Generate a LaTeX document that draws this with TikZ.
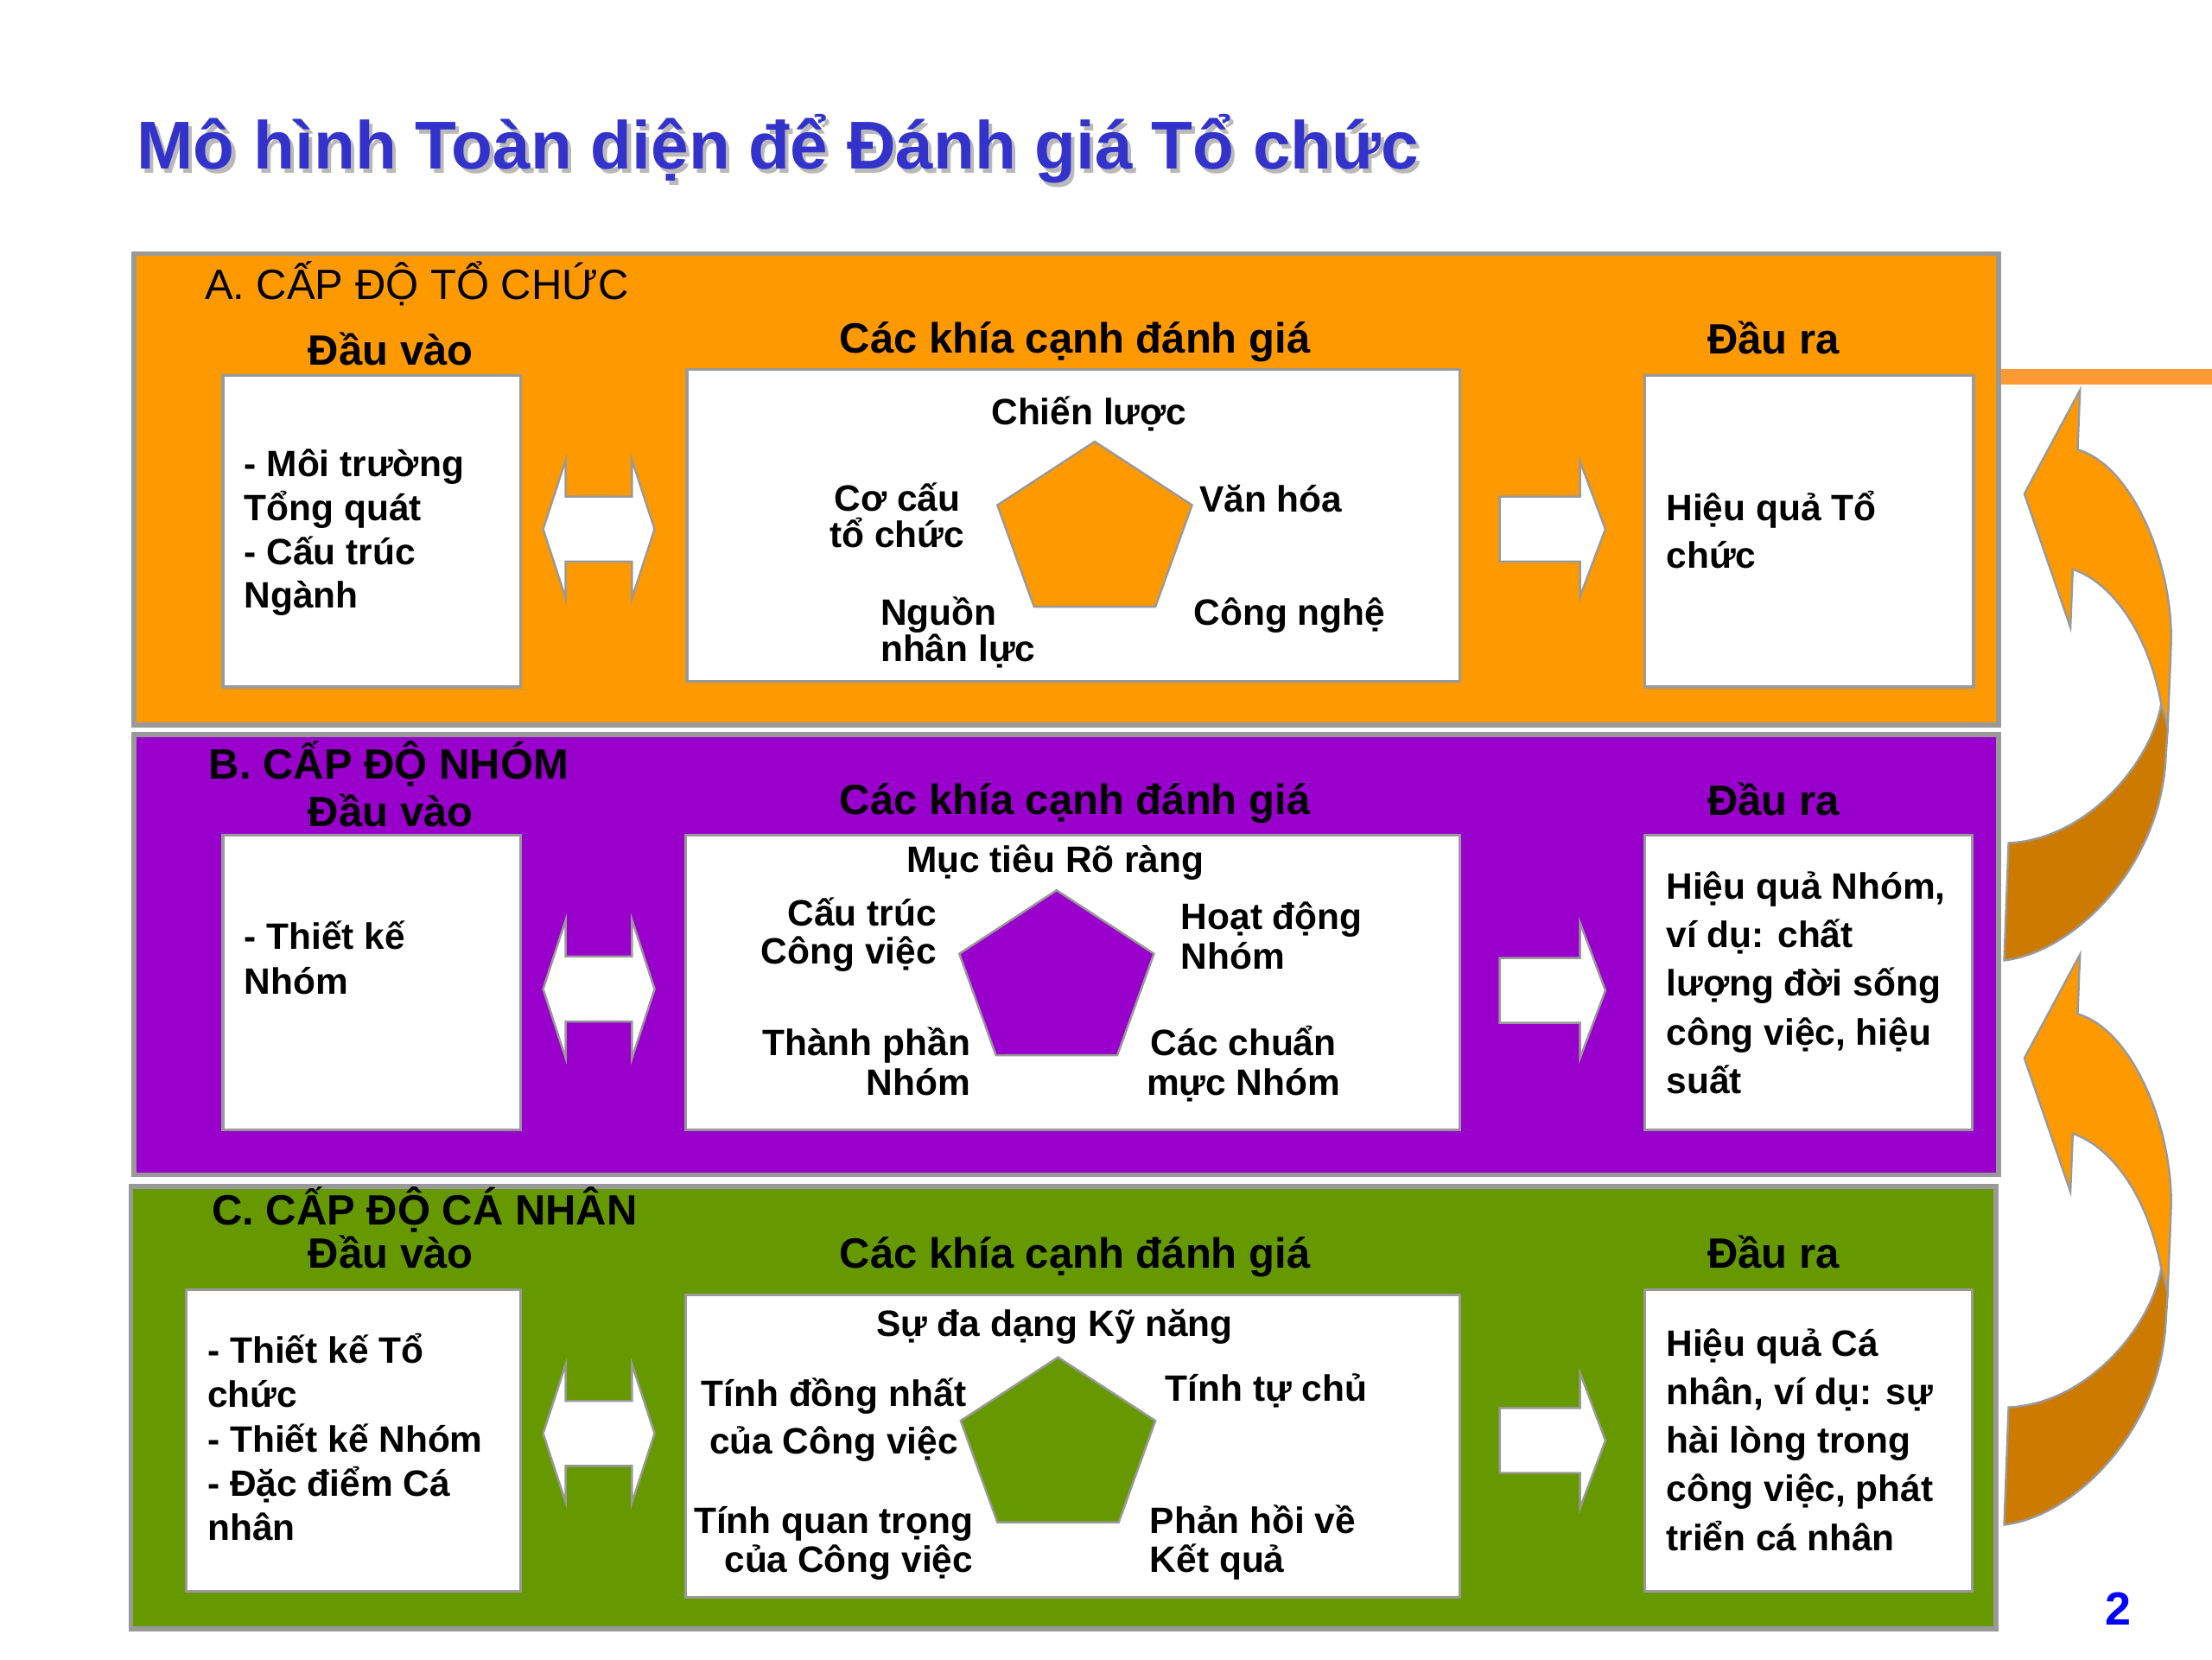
\documentclass[tikz,border=0pt]{standalone}
\usepackage{fontspec}
\setmainfont{Liberation Sans}
\usetikzlibrary{positioning}

\definecolor{orgA}{HTML}{FF9900}
\definecolor{purB}{HTML}{9900CC}
\definecolor{grnC}{HTML}{669900}
\definecolor{frame}{HTML}{999999}
\definecolor{darkorg}{HTML}{CC7A00}
\definecolor{lineorg}{HTML}{FF9933}
\definecolor{titleblue}{HTML}{3333CC}
\definecolor{numblue}{HTML}{0000FF}

\tikzset{
  panel/.style={draw=frame, line width=3.5pt, anchor=north west, inner sep=0pt},
  whitebox/.style={draw=frame, line width=2pt, fill=white, anchor=north west, inner sep=0pt},
  head/.style={font=\fontsize{30}{36}\selectfont\bfseries, inner sep=0pt, anchor=base},
  level/.style={font=\fontsize{30}{36}\selectfont#1, inner sep=0pt, anchor=base west},
  level/.default=\bfseries,
  body/.style={font=\fontsize{26}{#1}\selectfont\bfseries, inner sep=0pt, align=left, anchor=base west},
  body/.default=31pt,
  pent/.style={draw=frame, line width=1.5pt},
  blockarrow/.style={draw=frame, line width=1.5pt, fill=white},
  dblarrow/.pic={\draw[blockarrow] (-39.5,0) -- (-23.5,-49) -- (-23.5,-23) -- (23.5,-23) -- (23.5,-49)
      -- (39.5,0) -- (23.5,49) -- (23.5,23) -- (-23.5,23) -- (-23.5,49) -- cycle;},
  rarrow/.pic={\draw[blockarrow] (0,-23) -- (57,-23) -- (57,-48) -- (75,0) -- (57,48) -- (57,23) -- (0,23) -- cycle;},
}

\begin{document}
\begin{tikzpicture}[x=1pt, y=-1pt]
    \useasboundingbox (0,0) rectangle (1568,1176);
    % Title
    \node[font=\fontsize{48}{58}\selectfont\bfseries, text=gray!55, inner sep=0pt, anchor=base west] (titleshadow) at (99.5,122.5) {Mô hình Toàn diện để Đánh giá Tổ chức};
    \node[font=\fontsize{48}{58}\selectfont\bfseries, text=titleblue, inner sep=0pt, anchor=base west] (title) at (97,120) {Mô hình Toàn diện để Đánh giá Tổ chức};
    % Feedback line
    \coordinate (lineend) at (1568,267);
    % Panels
    \node[panel, fill=orgA, minimum width=1322pt, minimum height=334pt] (pA) at (93,178) {};
    \node[panel, fill=purB, minimum width=1322pt, minimum height=312pt] (pB) at (93,519) {};
    \node[panel, fill=grnC, minimum width=1322pt, minimum height=314pt] (pC) at (91,839) {};
    \draw[lineorg, line width=11pt] (pA.east |- lineend) -- (lineend);
    % Boxes
    \node[whitebox, minimum width=211pt, minimum height=221pt] (inA) at (157,265) {};
    \node[whitebox, minimum width=548pt, minimum height=221pt] (midA) at (486,261) {};
    \node[whitebox, minimum width=233pt, minimum height=221pt] (outA) at (1165,265) {};
    \node[whitebox, minimum width=211pt, minimum height=209pt] (inB) at (157,591) {};
    \node[whitebox, minimum width=549pt, minimum height=209pt] (midB) at (485,591) {};
    \node[whitebox, minimum width=232pt, minimum height=209pt] (outB) at (1165,591) {};
    \node[whitebox, minimum width=237pt, minimum height=214pt] (inC) at (131,913) {};
    \node[whitebox, minimum width=549pt, minimum height=214pt] (midC) at (485,917) {};
    \node[whitebox, minimum width=232pt, minimum height=214pt] (outC) at (1165,913) {};
    % Arrows between boxes
    \pic at (424.5,375) {dblarrow};
    \pic at (424.5,701) {dblarrow};
    \pic at (424.5,1016) {dblarrow};
    \pic at (1063,375) {rarrow};
    \pic at (1063,702) {rarrow};
    \pic at (1063,1021) {rarrow};
    % Pentagons
    \coordinate (pentA) at (776,313);
    \coordinate (pentB) at (749,631);
    \coordinate (pentC) at (750,962);
    \draw[pent, fill=orgA] (pentA) -- ++(-69,45) -- ++(26,72) -- ++(86,0) -- ++(26,-72) -- cycle;
    \draw[pent, fill=purB] (pentB) -- ++(-69,45) -- ++(26,72) -- ++(86,0) -- ++(26,-72) -- cycle;
    \draw[pent, fill=grnC] (pentC) -- ++(-69,45) -- ++(26,72) -- ++(86,0) -- ++(26,-72) -- cycle;
    % Return arrows
    \foreach \dy in {0,400} {
      \begin{scope}[shift={(0,\dy)}]
        \draw[fill=darkorg, draw=frame, line width=1.5pt] (1532,499) .. controls (1525,540) and (1480,595) .. (1423.8,597.5)
            -- (1420.7,680.7) .. controls (1470,675) and (1530,615) .. (1535,540) -- (1536.6,515.5) -- cycle;
        \draw[fill=orgA, draw=frame, line width=1.5pt] (1435,350) -- (1474.4,276.6) -- (1472.7,318.7)
            .. controls (1512,330) and (1540,400) .. (1539,455) -- (1536.6,515.5) -- (1532,499)
            .. controls (1522,445) and (1495,412) .. (1469.3,403.5) -- (1467.6,444.5) -- cycle;
      \end{scope}
    }
    % Labels A (multi-line nodes sit on their last line)
    \node[level=\mdseries] (levA) at (145,212) {A. CẤP ĐỘ TỔ CHỨC};
    \node[head] (inheadA) at (277,259) {Đầu vào};
    \node[head] (midheadA) at (762,250) {Các khía cạnh đánh giá};
    \node[head] (outheadA) at (1257,251) {Đầu ra};
    \node[body] (intextA) at (173,431) {- Môi trường\\Tổng quát\\- Cấu trúc\\Ngành};
    \node[body, anchor=base] (a1) at (772,301) {Chiến lược};
    \node[body=26pt, anchor=base, align=center] (a2) at (636,388) {Cơ cấu\\tổ chức};
    \node[body] (a3) at (850,363) {Văn hóa};
    \node[body=24pt] (a4) at (624,469) {Nguồn\\nhân lực};
    \node[body] (a5) at (846,443) {Công nghệ};
    \node[body=34pt] (outtextA) at (1181,403) {Hiệu quả Tổ\\chức};
    % Labels B
    \node[level] (levB) at (148,552) {B. CẤP ĐỘ NHÓM};
    \node[head] (inheadB) at (277,586) {Đầu vào};
    \node[head] (midheadB) at (762,577) {Các khía cạnh đánh giá};
    \node[head] (outheadB) at (1257,578) {Đầu ra};
    \node[body=31.7pt] (intextB) at (173,704.7) {- Thiết kế\\Nhóm};
    \node[body, anchor=base] (b1) at (748,618.5) {Mục tiêu Rõ ràng};
    \node[body=27.5pt, anchor=base east, align=right] (b2) at (664,683.5) {Cấu trúc\\Công việc};
    \node[body=28pt] (b3) at (837,687) {Hoạt động\\Nhóm};
    \node[body=28.6pt, anchor=base east, align=right] (b4) at (688,776.6) {Thành phần\\Nhóm};
    \node[body=28.6pt, anchor=base, align=center] (b5) at (881.5,776.6) {Các chuẩn\\mực Nhóm};
    \node[body=34.5pt] (outtextB) at (1181,775) {Hiệu quả Nhóm,\\ví dụ: chất\\lượng đời sống\\công việc, hiệu\\suất};
    % Labels C
    \node[level] (levC) at (150,868.5) {C. CẤP ĐỘ CÁ NHÂN};
    \node[head] (inheadC) at (277,899) {Đầu vào};
    \node[head] (midheadC) at (762,899) {Các khía cạnh đánh giá};
    \node[head] (outheadC) at (1257,899) {Đầu ra};
    \node[body=31.5pt] (intextC) at (147,1092) {- Thiết kế Tổ\\chức\\- Thiết kế Nhóm\\- Đặc điểm Cá\\nhân};
    \node[body, anchor=base] (c1) at (747.5,947) {Sự đa dạng Kỹ năng};
    \node[body=33.7pt, anchor=base, align=center] (c2) at (591,1030.7) {Tính đồng nhất\\của Công việc};
    \node[body] (c3) at (826,993) {Tính tự chủ};
    \node[body=27.5pt, anchor=base east, align=right] (c4) at (690,1114.5) {Tính quan trọng\\của Công việc};
    \node[body=27.5pt] (c5) at (815,1114.5) {Phản hồi về\\Kết quả};
    \node[body=34.5pt] (outtextC) at (1181,1099) {Hiệu quả Cá\\nhân, ví dụ: sự\\hài lòng trong\\công việc, phát\\triển cá nhân};
    % Page number
    \node[font=\fontsize{33}{40}\selectfont\bfseries, text=numblue, inner sep=0pt, anchor=base] (pagenum) at (1501.5,1152) {2};
\end{tikzpicture}
\end{document}
